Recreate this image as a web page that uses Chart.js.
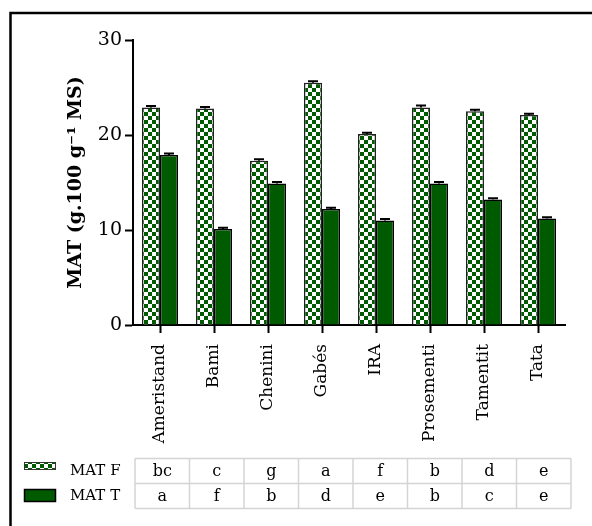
<!DOCTYPE html>
<html>
<head>
<meta charset="utf-8">
<script src="https://cdn.jsdelivr.net/npm/chart.js@4/dist/chart.umd.min.js"></script>
<style>
body { margin: 0; background: #fff; }
</style>
</head>
<body>
<canvas id="matChart" width="592" height="526"></canvas>
<script>
const categories = ["Ameristand", "Bami", "Chenini", "Gabés", "IRA", "Prosementi", "Tamentit", "Tata"];
const matF = [22.9, 22.8, 17.3, 25.5, 20.1, 22.9, 22.5, 22.1];
const matT = [17.9, 10.1, 14.9, 12.2, 11.0, 14.9, 13.2, 11.2];
const errF = [0.15, 0.15, 0.15, 0.15, 0.15, 0.2, 0.15, 0.15];
const errT = [0.15, 0.15, 0.15, 0.15, 0.15, 0.15, 0.15, 0.15];
const lettersF = ["bc", "c", "g", "a", "f", "b", "d", "e"];
const lettersT = ["a", "f", "b", "d", "e", "b", "c", "e"];
const yTicks = [0, 10, 20, 30];

const green = "#005a00";
const serif = "'DejaVu Serif', serif";

// damier vert / blanc
function checker() {
  const c = document.createElement("canvas");
  c.width = 8; c.height = 8;
  const g = c.getContext("2d");
  g.fillStyle = "#fff";
  g.fillRect(0, 0, 8, 8);
  g.fillStyle = green;
  g.fillRect(0, 0, 4, 4);
  g.fillRect(4, 4, 4, 4);
  return g.createPattern(c, "repeat");
}

const canvas = document.getElementById("matChart");
const ctx = canvas.getContext("2d");
const pattern = checker();

const extras = {
  id: "extras",
  afterDatasetsDraw(chart) {
    const c = chart.ctx;
    const y = chart.scales.y;
    // barres d'erreur
    [errF, errT].forEach((errs, di) => {
      const meta = chart.getDatasetMeta(di);
      meta.data.forEach((bar, i) => {
        const v = chart.data.datasets[di].data[i];
        const yTop = y.getPixelForValue(v + errs[i]);
        c.save();
        c.strokeStyle = "#000";
        c.lineWidth = 2;
        c.beginPath();
        c.moveTo(bar.x, bar.y);
        c.lineTo(bar.x, yTop);
        c.moveTo(bar.x - 5, yTop);
        c.lineTo(bar.x + 5, yTop);
        c.stroke();
        c.restore();
      });
    });
  },
  afterDraw(chart) {
    const c = chart.ctx;
    c.save();
    // cadre
    c.strokeStyle = "#000";
    c.lineWidth = 2.5;
    c.beginPath();
    c.moveTo(10.5, 540);
    c.lineTo(10.5, 13);
    c.lineTo(600, 13);
    c.stroke();

    // légende
    c.fillStyle = pattern;
    c.fillRect(24, 462, 32, 8);
    c.strokeStyle = "#333";
    c.lineWidth = 1;
    c.strokeRect(24.5, 462.5, 31, 7);
    c.fillStyle = green;
    c.fillRect(24, 489, 32, 13);
    c.strokeStyle = "#000";
    c.lineWidth = 1.5;
    c.strokeRect(24.5, 489.5, 31, 12);

    c.fillStyle = "#000";
    c.font = "15px " + serif;
    c.textBaseline = "middle";
    c.textAlign = "left";
    c.fillText("MAT F", 70, 471);
    c.fillText("MAT T", 70, 496);

    // tableau des lettres
    const x0 = 135, colW = 54.5, y0 = 458.5, rowH = 25;
    c.strokeStyle = "#d4d4d4";
    c.lineWidth = 1.5;
    for (let r = 0; r <= 2; r++) {
      c.beginPath();
      c.moveTo(x0, y0 + r * rowH);
      c.lineTo(x0 + colW * categories.length, y0 + r * rowH);
      c.stroke();
    }
    for (let k = 0; k <= categories.length; k++) {
      c.beginPath();
      c.moveTo(x0 + k * colW, y0);
      c.lineTo(x0 + k * colW, y0 + 2 * rowH);
      c.stroke();
    }
    c.fillStyle = "#000";
    c.font = "16px " + serif;
    c.textAlign = "center";
    [lettersF, lettersT].forEach((row, r) => {
      row.forEach((t, k) => {
        c.fillText(t, x0 + k * colW + colW / 2, y0 + r * rowH + rowH / 2 + 1);
      });
    });
    c.restore();
  }
};

new Chart(ctx, {
  type: "bar",
  data: {
    labels: categories,
    datasets: [
      {
        label: "MAT F",
        data: matF,
        backgroundColor: pattern,
        borderColor: "#222",
        borderWidth: 1.5,
        categoryPercentage: 0.667,
        barPercentage: 1
      },
      {
        label: "MAT T",
        data: matT,
        backgroundColor: green,
        borderColor: "#000",
        borderWidth: 1.5,
        categoryPercentage: 0.667,
        barPercentage: 1
      }
    ]
  },
  options: {
    responsive: false,
    animation: false,
    layout: { padding: { left: 10, top: 40, right: 27, bottom: 0 } },
    plugins: {
      legend: { display: false },
      tooltip: { enabled: false }
    },
    scales: {
      x: {
        grid: {
          offset: false,
          drawOnChartArea: false,
          tickLength: 8,
          tickWidth: 2,
          tickColor: "#000"
        },
        border: { color: "#000", width: 2 },
        ticks: {
          color: "#000",
          font: { family: serif, size: 17 },
          minRotation: 90,
          maxRotation: 90,
          autoSkip: false,
          padding: 11
        },
        afterFit(scale) { scale.height = 201; }
      },
      y: {
        min: 0,
        max: 30,
        afterBuildTicks(scale) { scale.ticks = yTicks.map(v => ({ value: v })); },
        grid: {
          drawOnChartArea: false,
          tickLength: 8,
          tickWidth: 2,
          tickColor: "#000"
        },
        border: { color: "#000", width: 2 },
        ticks: {
          color: "#000",
          font: { family: serif, size: 19 },
          padding: 3
        },
        title: {
          display: true,
          text: "MAT (g.100 g⁻¹ MS)",
          color: "#000",
          font: { family: serif, size: 19, weight: "bold" },
          padding: { top: 55, bottom: 0 }
        },
        afterFit(scale) { scale.width = 123; }
      }
    }
  },
  plugins: [extras]
});
</script>
</body>
</html>
